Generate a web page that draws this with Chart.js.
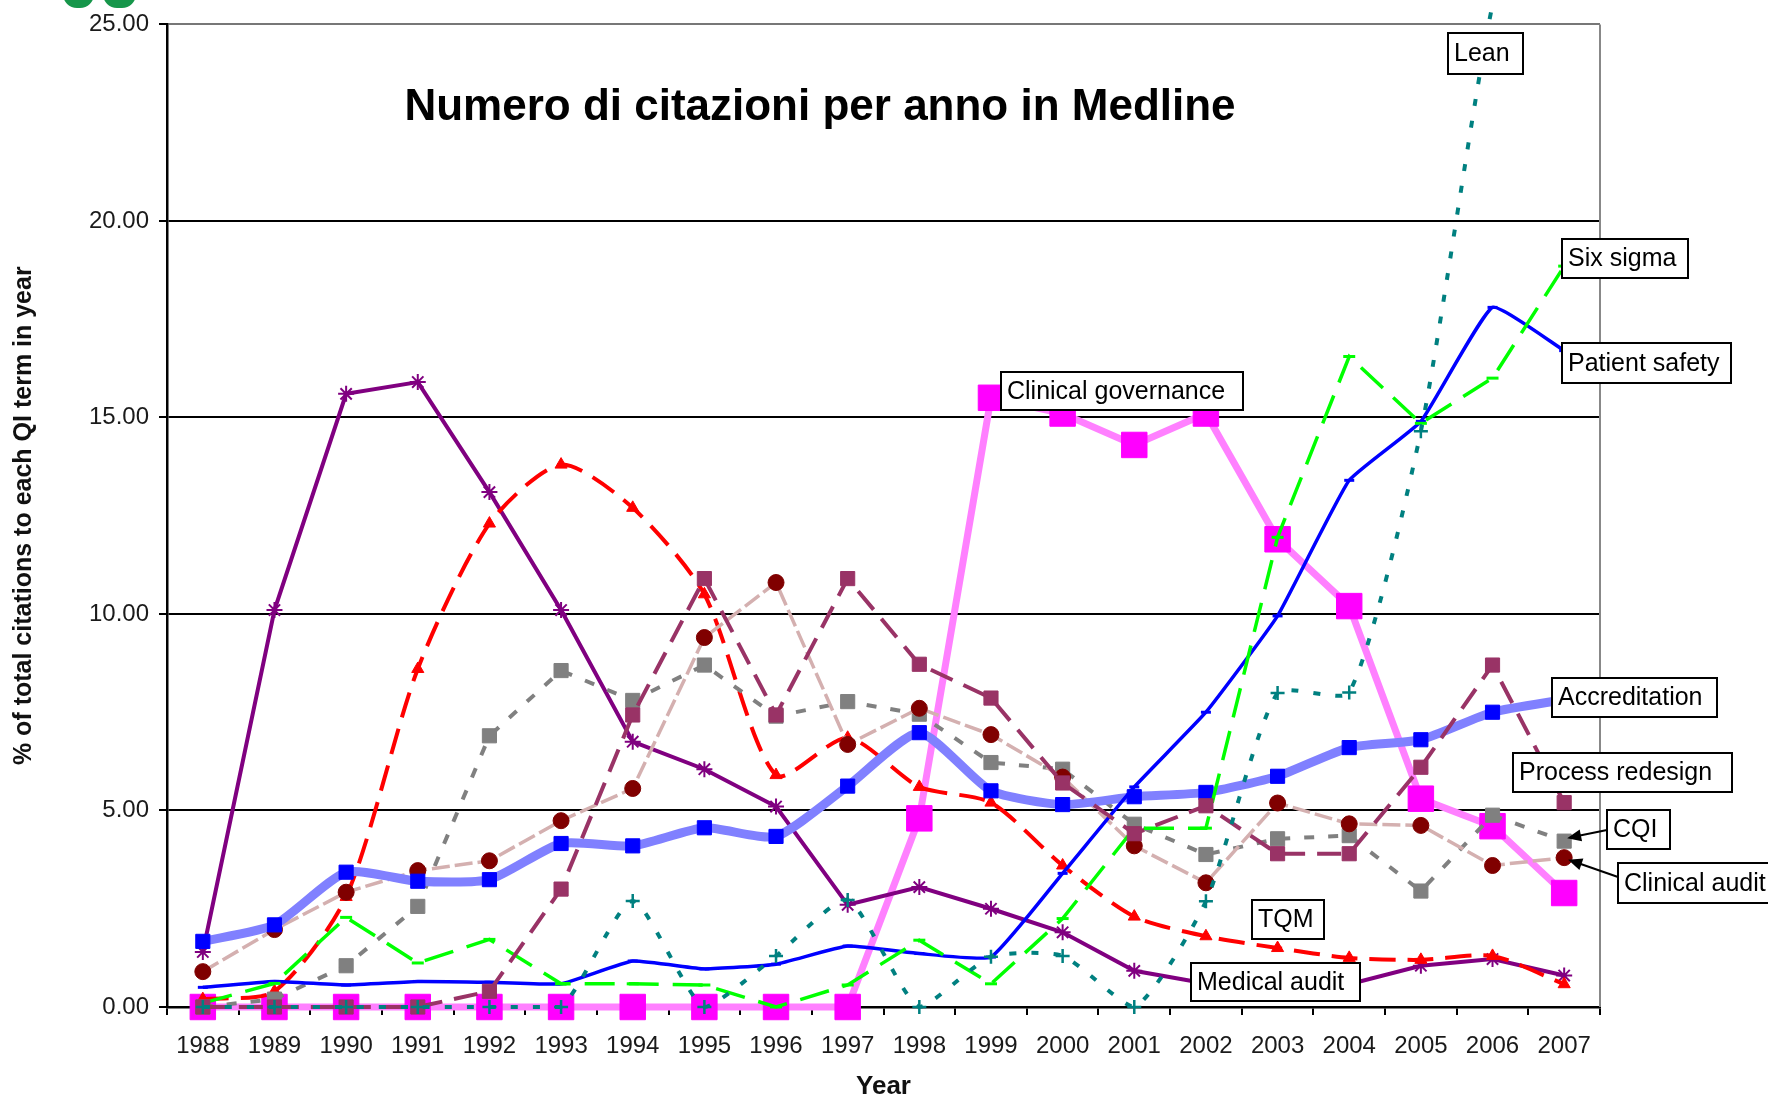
<!DOCTYPE html>
<html>
<head>
<meta charset="utf-8">
<script src="https://cdn.jsdelivr.net/npm/chart.js@4.4.1/dist/chart.umd.min.js"></script>
<style>
html,body{margin:0;padding:0;background:#fff;}
#wrap{position:relative;width:1768px;height:1100px;}
</style>
</head>
<body>
<div id="wrap"><canvas id="grafico" width="1768" height="1100"></canvas></div>
<script>
// anni sull'asse x
const anni = ["1988","1989","1990","1991","1992","1993","1994","1995","1996","1997",
              "1998","1999","2000","2001","2002","2003","2004","2005","2006","2007"];
const ticksY = [0, 5, 10, 15, 20, 25];

// % di citazioni per termine
const medicalAudit  = [1.4, 10.1, 15.6, 15.9, 13.1, 10.1, 6.75, 6.05, 5.1, 2.6, 3.05, 2.5, 1.9, 0.92, 0.6, 0.55, 0.58, 1.05, 1.22, 0.8];
const tqm           = [0.2, 0.4, 2.8, 8.6, 12.3, 13.8, 12.7, 10.5, 5.9, 6.85, 5.6, 5.2, 3.6, 2.3, 1.8, 1.5, 1.25, 1.2, 1.3, 0.58];
const clinGov       = [0, 0, 0, 0, 0, 0, 0, 0, 0, 0, 4.8, 15.5, 15.1, 14.3, 15.1, 11.9, 10.2, 5.3, 4.6, 2.9];
const patientSafety = [0.5, 0.65, 0.56, 0.65, 0.63, 0.59, 1.17, 0.97, 1.09, 1.55, 1.36, 1.27, 3.4, 5.6, 7.5, 9.95, 13.4, 14.9, 17.8, 16.7];
const accreditation = [1.67, 2.09, 3.43, 3.2, 3.24, 4.16, 4.1, 4.56, 4.34, 5.62, 6.98, 5.5, 5.15, 5.35, 5.46, 5.87, 6.6, 6.8, 7.5, 7.82];
const clinicalAudit = [0.9, 1.97, 2.92, 3.47, 3.72, 4.74, 5.56, 9.4, 10.8, 6.68, 7.6, 6.93, 5.85, 4.1, 3.16, 5.19, 4.66, 4.62, 3.6, 3.8];
const sixSigma      = [0.1, 0.6, 2.28, 1.12, 1.72, 0.59, 0.59, 0.56, 0.0, 0.56, 1.7, 0.59, 2.25, 4.55, 4.55, 11.95, 16.55, 14.85, 16.0, 18.85];
const lean          = [0, 0, 0, 0, 0, 0, 2.7, 0, 1.3, 2.72, 0, 1.28, 1.3, 0, 2.69, 7.99, 8.0, 14.65, 25.5, 32];
const cqi           = [0, 0.2, 1.05, 2.56, 6.9, 8.56, 7.8, 8.7, 7.4, 7.77, 7.45, 6.22, 6.05, 4.65, 3.88, 4.28, 4.36, 2.95, 4.88, 4.22];
const processRed    = [0, 0, 0, 0, 0.4, 3.0, 7.43, 10.9, 7.43, 10.9, 8.72, 7.86, 5.7, 4.41, 5.12, 3.9, 3.9, 6.1, 8.7, 5.2];

const FONT = '"Liberation Sans", Arial, sans-serif';
Chart.defaults.font.family = FONT;

function serie(label, data, o){
  return Object.assign({label:label, data:data, fill:false, clip:false, tension:0, pointBorderWidth:1, pointHoverRadius:0}, o);
}

// etichette in riquadro (come in Excel)
const note = [
  {testo:"Lean",                x:1448, y:33,  w:75,  h:41},
  {testo:"Six sigma",           x:1562, y:239, w:126, h:39},
  {testo:"Patient safety",      x:1562, y:343, w:169, h:40},
  {testo:"Clinical governance", x:1001, y:372, w:242, h:38},
  {testo:"Accreditation",       x:1552, y:678, w:165, h:39},
  {testo:"Process redesign",    x:1513, y:753, w:219, h:39},
  {testo:"CQI",                 x:1607, y:810, w:63,  h:39},
  {testo:"Clinical audit",      x:1618, y:863, w:190, h:40},
  {testo:"TQM",                 x:1252, y:900, w:72,  h:39},
  {testo:"Medical audit",       x:1191, y:963, w:169, h:38}
];
const frecce = [
  {serie:cqi, i:19, da:[1607,830], dx:3, dy:-3},
  {serie:clinicalAudit, i:19, da:[1618,877], dx:4, dy:2}
];

const decorazioni = {
  id:"decorazioni",
  afterDatasetsDraw(c){
    const ctx = c.ctx, a = c.chartArea, sx = c.scales.x, sy = c.scales.y;
    ctx.save();
    // bordo destro
    ctx.strokeStyle = "#888";
    ctx.lineWidth = 2;
    ctx.beginPath();
    ctx.moveTo(a.right, a.top);
    ctx.lineTo(a.right, a.bottom);
    ctx.stroke();

    // titolo dentro l'area del grafico
    ctx.fillStyle = "#000";
    ctx.font = "bold 44px " + FONT;
    ctx.textAlign = "center";
    ctx.textBaseline = "middle";
    ctx.fillText("Numero di citazioni per anno in Medline", 820, 108);

    // frecce
    ctx.strokeStyle = "#000";
    ctx.fillStyle = "#000";
    ctx.lineWidth = 2;
    frecce.forEach(f=>{
      const tx = sx.getPixelForValue(f.i) + f.dx;
      const ty = sy.getPixelForValue(f.serie[f.i]) + f.dy;
      const ang = Math.atan2(ty - f.da[1], tx - f.da[0]);
      ctx.beginPath();
      ctx.moveTo(f.da[0], f.da[1]);
      ctx.lineTo(tx - Math.cos(ang)*8, ty - Math.sin(ang)*8);
      ctx.stroke();
      ctx.beginPath();
      ctx.moveTo(tx, ty);
      ctx.lineTo(tx - Math.cos(ang)*14 + Math.sin(ang)*6, ty - Math.sin(ang)*14 - Math.cos(ang)*6);
      ctx.lineTo(tx - Math.cos(ang)*14 - Math.sin(ang)*6, ty - Math.sin(ang)*14 + Math.cos(ang)*6);
      ctx.closePath();
      ctx.fill();
    });

    // riquadri
    ctx.font = "25px " + FONT;
    ctx.textAlign = "left";
    ctx.textBaseline = "middle";
    note.forEach(n=>{
      ctx.fillStyle = "#fff";
      ctx.fillRect(n.x, n.y, n.w, n.h);
      ctx.strokeStyle = "#000";
      ctx.lineWidth = 2;
      ctx.strokeRect(n.x, n.y, n.w, n.h);
      ctx.fillStyle = "#000";
      ctx.fillText(n.testo, n.x + 6, n.y + n.h/2 + 1);
    });

    // pezzo di logo verde tagliato in alto
    ctx.fillStyle = "#16964a";
    [[63,31],[103,33]].forEach(b=>{
      ctx.beginPath();
      ctx.roundRect(b[0], -30, b[1], 38, 14);
      ctx.fill();
    });
    ctx.restore();
  }
};

new Chart(document.getElementById("grafico"), {
  type:"line",
  data:{
    labels:anni,
    datasets:[
      serie("Lean", lean, {order:1, tension:0.2, borderColor:"#008080", borderWidth:4, borderDash:[7,15],
        pointStyle:"cross", pointRadius:7, pointBorderColor:"#008080", pointBorderWidth:2.5}),
      serie("Process redesign", processRed, {order:2, borderColor:"#993366", borderWidth:4, borderDash:[24,12],
        pointStyle:"rect", pointRadius:10, pointBackgroundColor:"#993366", pointBorderColor:"#993366"}),
      serie("Six sigma", sixSigma, {order:3, borderColor:"#00FF00", borderWidth:3.5, borderDash:[30,14],
        pointStyle:"line", pointRadius:6, pointBorderColor:"#00FF00", pointBorderWidth:3}),
      serie("Patient safety", patientSafety, {order:4, tension:0.12, borderColor:"#0000FF", borderWidth:3.5,
        pointStyle:"line", pointRadius:5, pointBorderColor:"#0000FF", pointBorderWidth:3}),
      serie("Accreditation", accreditation, {order:5, tension:0.2, borderColor:"#8080FF", borderWidth:9,
        pointStyle:"rect", pointRadius:10, pointBackgroundColor:"#0000FF", pointBorderColor:"#0000FF"}),
      serie("Clinical audit", clinicalAudit, {order:6, borderColor:"#D4B0B0", borderWidth:3.5, borderDash:[18,5],
        pointStyle:"circle", pointRadius:8, pointBackgroundColor:"#800000", pointBorderColor:"#800000"}),
      serie("CQI", cqi, {order:7, borderColor:"#808080", borderWidth:4, borderDash:[10,14],
        pointStyle:"rect", pointRadius:10, pointBackgroundColor:"#808080", pointBorderColor:"#808080"}),
      serie("TQM", tqm, {order:8, tension:0.25, borderColor:"#FF0000", borderWidth:4, borderDash:[26,12],
        pointStyle:"triangle", pointRadius:7, pointBackgroundColor:"#FF0000", pointBorderColor:"#FF0000"}),
      serie("Medical audit", medicalAudit, {order:9, borderColor:"#800080", borderWidth:4,
        pointStyle:"star", pointRadius:8, pointBorderColor:"#800080", pointBorderWidth:2}),
      serie("Clinical governance", clinGov, {order:10, borderColor:"#FF80FF", borderWidth:7,
        pointStyle:"rect", pointRadius:18, pointBackgroundColor:"#FF00FF", pointBorderColor:"#FF00FF"})
    ]
  },
  options:{
    responsive:false,
    animation:false,
    devicePixelRatio:1,
    layout:{padding:{left:0, right:168, top:24, bottom:0}},
    plugins:{legend:{display:false}, tooltip:{enabled:false}},
    scales:{
      x:{
        offset:true,
        afterFit:s=>{ s.height = 93; },
        grid:{display:true, drawOnChartArea:false, drawTicks:true, tickLength:8, offset:true, color:"#000", lineWidth:2},
        border:{display:true, color:"#000", width:2.5},
        ticks:{color:"#1a1a1a", font:{size:24}, padding:17, maxRotation:0, autoSkip:false},
        title:{display:true, text:"Year", color:"#111", font:{size:26, weight:"bold", lineHeight:1}, padding:{top:0, bottom:0}}
      },
      y:{
        min:0, max:25,
        afterFit:s=>{ s.width = 167; },
        afterBuildTicks:s=>{ s.ticks = ticksY.map(v=>({value:v})); },
        grid:{color:ctx=>ctx.tick && ctx.tick.value === 25 ? "#777" : "#000", lineWidth:2, tickLength:8, tickColor:"#000"},
        border:{display:true, color:"#000", width:2.5},
        ticks:{color:"#1a1a1a", font:{size:24}, padding:10, callback:v=>v.toFixed(2)},
        title:{display:true, text:"% of total citations to each QI term in year", color:"#111",
          font:{size:25, weight:"bold", lineHeight:1}, padding:{top:12, bottom:0}}
      }
    }
  },
  plugins:[decorazioni]
});
</script>
</body>
</html>
